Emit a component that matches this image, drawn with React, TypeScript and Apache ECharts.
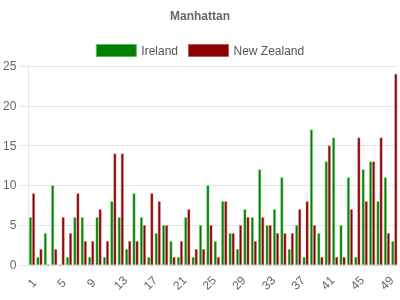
import React, { useEffect, useRef } from "react";
import * as echarts from "echarts";

const categories: string[] = Array.from({ length: 50 }, (_, i) => String(i + 1));
const ireland: number[] = [
  6, 1, 4, 10, 0, 1, 6, 6, 1, 6,
  1, 8, 6, 2, 9, 6, 1, 4, 5, 3,
  1, 6, 1, 5, 10, 3, 8, 4, 2, 7,
  6, 12, 5, 7, 11, 2, 5, 1, 17, 4,
  13, 16, 5, 11, 1, 12, 13, 8, 11, 3,
];
const newZealand: number[] = [
  9, 2, 0, 2, 6, 4, 9, 3, 3, 7,
  3, 14, 14, 3, 3, 5, 9, 8, 5, 1,
  3, 7, 2, 2, 5, 1, 8, 4, 5, 6,
  3, 6, 5, 4, 4, 4, 7, 8, 5, 1,
  15, 1, 1, 7, 16, 8, 13, 16, 4, 24,
];
const seriesNames = ["Ireland", "New Zealand"];
const yTicks = { min: 0, max: 25, interval: 5 };

const FONT = "'Liberation Sans', Arial, sans-serif";
const GREEN = "#008000";
const RED = "#8b0000";

export default function App() {
  const ref = useRef<HTMLDivElement>(null);
  useEffect(() => {
    if (!ref.current) return;
    const chart = echarts.init(ref.current, undefined, { renderer: "svg" });
    chart.setOption({
      animation: false,
      title: {
        text: "Manhattan",
        left: "center",
        top: 5,
        textStyle: { fontFamily: FONT, fontSize: 12, fontWeight: "bold", color: "#666" },
      },
      legend: {
        top: 39,
        left: "center",
        itemWidth: 40,
        itemHeight: 12,
        itemGap: 10,
        icon: "rect",
        textStyle: { fontFamily: FONT, fontSize: 12, color: "#555" },
        data: [
          { name: seriesNames[0], itemStyle: { color: GREEN, borderColor: "#5cb85c", borderWidth: 1 } },
          { name: seriesNames[1], itemStyle: { color: RED, borderColor: "#b85c5c", borderWidth: 1 } },
        ],
      },
      grid: { left: 28, right: 2, top: 66, bottom: 35 },
      xAxis: {
        type: "category",
        data: categories,
        boundaryGap: true,
        axisLine: { lineStyle: { color: "#e0e0e0" } },
        axisTick: {
          alignWithLabel: true,
          interval: (idx: number) => idx % 4 === 2,
          length: 8,
          lineStyle: { color: "#e0e0e0" },
        },
        axisLabel: {
          interval: 3,
          rotate: 45,
          align: "center",
          verticalAlign: "middle",
          margin: 18,
          fontFamily: FONT,
          fontSize: 12,
          color: "#666",
        },
      },
      yAxis: {
        type: "value",
        min: yTicks.min,
        max: yTicks.max,
        interval: yTicks.interval,
        axisLine: { show: true, lineStyle: { color: "#e6e6e6" } },
        axisTick: { show: true, length: 8, lineStyle: { color: "#e6e6e6" } },
        splitLine: { lineStyle: { color: "#e6e6e6" } },
        axisLabel: { fontFamily: FONT, fontSize: 12, color: "#666", margin: 12 },
      },
      series: [
        {
          name: seriesNames[0],
          type: "bar",
          data: ireland,
          barWidth: 2.8,
          barGap: "10%",
          itemStyle: { color: GREEN, borderColor: "rgba(120,200,120,0.8)", borderWidth: 0.6 },
        },
        {
          name: seriesNames[1],
          type: "bar",
          data: newZealand,
          barWidth: 2.8,
          barGap: "10%",
          itemStyle: { color: RED, borderColor: "rgba(200,120,120,0.8)", borderWidth: 0.6 },
        },
      ],
    });
    return () => chart.dispose();
  }, []);
  return (
    <div
      ref={ref}
      style={{ position: "fixed", left: 0, top: 0, width: 400, height: 300 }}
    />
  );
}
